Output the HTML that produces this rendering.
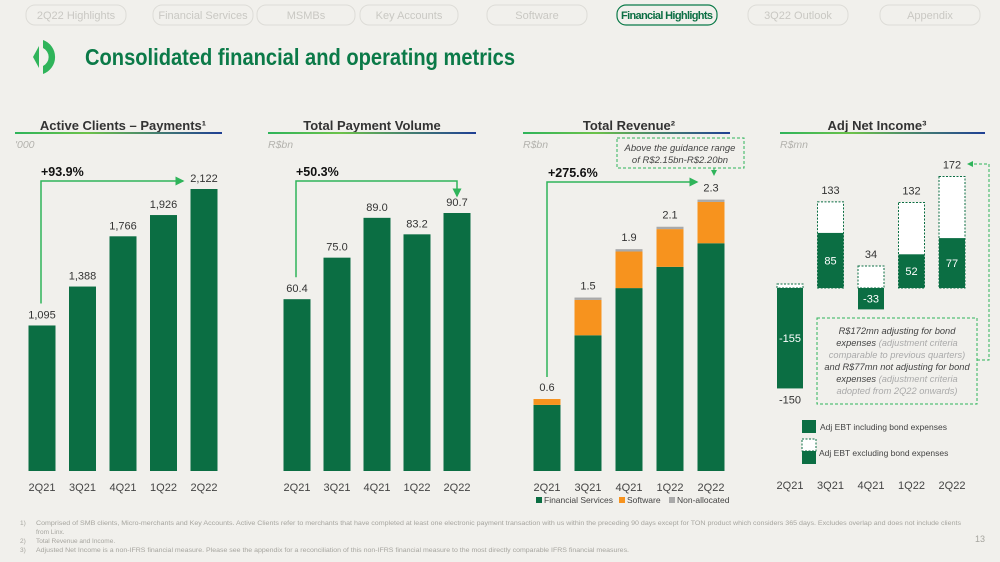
<!DOCTYPE html>
<html><head><meta charset="utf-8"><style>
html,body{margin:0;padding:0;background:#f1f0ec;}
svg{display:block;font-family:"Liberation Sans",sans-serif;}
</style></head><body>
<svg id="s" width="1000" height="562" viewBox="0 0 1000 562">
<defs>
<linearGradient id="ul" x1="0" x2="1"><stop offset="0" stop-color="#2fb45a"/><stop offset="0.35" stop-color="#6cc24a"/><stop offset="1" stop-color="#1f3f94"/></linearGradient>
<marker id="ah" markerWidth="6" markerHeight="6" refX="5" refY="3" orient="auto"><path d="M0,0 L6,3 L0,6z" fill="#2fb45a"/></marker>
</defs>
<rect width="1000" height="562" fill="#f1f0ec"/>
<g font-size="11" fill="#c9c8c3" text-anchor="middle">
<g><rect x="26" y="5" width="100" height="20" rx="9" fill="none" stroke="#dddcd7"/><text x="76" y="19">2Q22 Highlights</text></g>
<g><rect x="153" y="5" width="100" height="20" rx="9" fill="none" stroke="#dddcd7"/><text x="203" y="19">Financial Services</text></g>
<g><rect x="257" y="5" width="98" height="20" rx="9" fill="none" stroke="#dddcd7"/><text x="306" y="19">MSMBs</text></g>
<g><rect x="360" y="5" width="98" height="20" rx="9" fill="none" stroke="#dddcd7"/><text x="409" y="19">Key Accounts</text></g>
<g><rect x="487" y="5" width="100" height="20" rx="9" fill="none" stroke="#dddcd7"/><text x="537" y="19">Software</text></g>
<g><rect x="617" y="5" width="100" height="20" rx="9" fill="none" stroke="#0b7a48" stroke-width="1.2"/><text x="667" y="19" fill="#0b6e43" font-weight="bold" textLength="92">Financial Highlights</text></g>
<g><rect x="748" y="5" width="100" height="20" rx="9" fill="none" stroke="#dddcd7"/><text x="798" y="19">3Q22 Outlook</text></g>
<g><rect x="880" y="5" width="100" height="20" rx="9" fill="none" stroke="#dddcd7"/><text x="930" y="19">Appendix</text></g>
</g>
<g>
<path d="M39,46 L39,68 L33,57z" fill="#2fb45a"/>
<path d="M43,40 A18,18 0 0 1 43,74 L43,66 A10,10 0 0 0 43,48z" fill="#2fb45a"/>
</g>
<text x="85" y="65" font-size="23" font-weight="bold" fill="#0b7a48" textLength="430" lengthAdjust="spacingAndGlyphs">Consolidated financial and operating metrics</text>
<g id="charts"></g>
<g font-size="6.5" fill="#a6a59f">
<text x="20" y="525">1)</text><text x="36" y="525" textLength="925" lengthAdjust="spacingAndGlyphs">Comprised of SMB clients, Micro-merchants and Key Accounts. Active Clients refer to merchants that have completed at least one electronic payment transaction with us within the preceding 90 days except for TON product which considers 365 days. Excludes overlap and does not include clients</text>
<text x="36" y="534">from Linx.</text>
<text x="20" y="543">2)</text><text x="36" y="543">Total Revenue and Income.</text>
<text x="20" y="552">3)</text><text x="36" y="552" textLength="593" lengthAdjust="spacingAndGlyphs">Adjusted Net Income is a non-IFRS financial measure. Please see the appendix for a reconciliation of this non-IFRS financial measure to the most directly comparable IFRS financial measures.</text>
</g>
<text x="975" y="542" font-size="9" fill="#a6a59f">13</text>
</svg>
<script>
const quarters = ["2Q21","3Q21","4Q21","1Q22","2Q22"];
const clients = [1095,1388,1766,1926,2122];
const clientLabels = ["1,095","1,388","1,766","1,926","2,122"];
const tpv = [60.4,75.0,89.0,83.2,90.7];
const tpvLabels = ["60.4","75.0","89.0","83.2","90.7"];
const revFS = [0.56,1.15,1.55,1.73,1.93];
const revSoft = [0.05,0.30,0.31,0.32,0.35];
const revNA = [0.0,0.02,0.02,0.02,0.02];
const revLabels = ["0.6","1.5","1.9","2.1","2.3"];
const niEx = [-150,133,34,132,172];
const niInc = [-155,85,-33,52,77];
const growth = ["+93.9%","+50.3%","+275.6%"];

const NS="http://www.w3.org/2000/svg";
const root=document.getElementById('charts');
const G='#0b6e43';
function mk(tag,attrs,parent,txt){const e=document.createElementNS(NS,tag);for(const k in attrs)e.setAttribute(k,attrs[k]);if(txt!==undefined)e.textContent=txt;(parent||root).appendChild(e);return e;}
const BASE=471, BW=27;

function header(cx,x0,x1,title,unit,name){
  const g=mk('g',{},root);
  
  
  mk('text',{x:cx,y:130,'font-size':13,'font-weight':'bold','text-anchor':'middle',fill:'#333'},g,title);
  mk('rect',{x:x0,y:132,width:x1-x0,height:2,fill:'url(#ul)'},g);
  mk('text',{x:x0,y:148,'font-size':10.5,'font-style':'italic',fill:'#b3b2ad'},g,unit);
}
function xlabels(g,x0,step,y){
  quarters.forEach((q,i)=>{const t=mk('text',{x:x0+i*step,y:y,'font-size':11,'text-anchor':'middle',fill:'#444'},g,q);
    
    });
}
function simpleChart(vals,labels,x0,step,scale,name){
  const g=mk('g',{},root);
  
  
  const ys=v=>BASE-v*scale;
  vals.forEach((v,i)=>{const cx=x0+i*step;
    const r=mk('rect',{x:cx-BW/2,y:ys(v),width:BW,height:v*scale,fill:G},g);
    
    
    const t=mk('text',{x:cx,y:ys(v)-7,'font-size':11,'text-anchor':'middle',fill:'#333'},g,labels[i]);
    
    });
  xlabels(g,x0,step,491);
  return ys;
}
// chart 1
header(123,15,222,'Active Clients – Payments¹',"'000",'active-clients');
const y1=simpleChart(clients,clientLabels,42,40.5,282/2122,'active-clients-chart');
let a=mk('path',{d:`M41,${y1(clients[0])-22} V181 H183`,fill:'none',stroke:'#2fb45a','stroke-width':1.5,'marker-end':'url(#ah)'});


a=mk('text',{x:41,y:176,'font-size':12.5,'font-weight':'bold',fill:'#111'},root,growth[0]);


// chart 2
header(372,268,476,'Total Payment Volume','R$bn','tpv');
const y2=simpleChart(tpv,tpvLabels,297,40,258/90.7,'tpv-chart');
a=mk('path',{d:`M296,${y2(tpv[0])-22} V181 H457 V196`,fill:'none',stroke:'#2fb45a','stroke-width':1.5,'marker-end':'url(#ah)'});


a=mk('text',{x:296,y:176,'font-size':12.5,'font-weight':'bold',fill:'#111'},root,growth[1]);


// chart 3
header(629,523,730,'Total Revenue²','R$bn','revenue');
const g3=mk('g',{},root);


const S3=118, y3=v=>BASE-v*S3;
quarters.forEach((q,i)=>{const cx=547+i*41;
  let b=0;
  [[revFS,G,'financial-services'],[revSoft,'#f7931e','software'],[revNA,'#a9a9a9','non-allocated']].forEach(([arr,c,n])=>{
    const v=arr[i]; const r=mk('rect',{x:cx-BW/2,y:y3(b+v),width:BW,height:v*S3,fill:c},g3);
    
    
    b+=v;});
  const t=mk('text',{x:cx,y:y3(b)-8,'font-size':11,'text-anchor':'middle',fill:'#333'},g3,revLabels[i]);
  
  
});
xlabels(g3,547,41,491);
const tot0=revFS[0]+revSoft[0]+revNA[0];
a=mk('path',{d:`M547,${y3(tot0)-22} V182 H697`,fill:'none',stroke:'#2fb45a','stroke-width':1.5,'marker-end':'url(#ah)'});


a=mk('text',{x:548,y:177,'font-size':12.5,'font-weight':'bold',fill:'#111'},root,growth[2]);


const gb=mk('g',{},root);


mk('rect',{x:617,y:138,width:127,height:30,fill:'none',stroke:'#2fb45a','stroke-dasharray':'3,2'},gb);
mk('text',{x:680,y:151,'font-size':9.5,'font-style':'italic','text-anchor':'middle',fill:'#444'},gb,'Above the guidance range');
mk('text',{x:680,y:163,'font-size':9.5,'font-style':'italic','text-anchor':'middle',fill:'#444'},gb,'of R$2.15bn-R$2.20bn');
mk('path',{d:'M714,168 V175',stroke:'#2fb45a','stroke-dasharray':'2,2',fill:'none','marker-end':'url(#ah)'},gb);
const lg=mk('g',{},root);


[['Financial Services',G,536],['Software','#f7931e',619],['Non-allocated','#a9a9a9',669]].forEach(([n,c,x])=>{
  mk('rect',{x:x,y:497,width:6,height:6,fill:c},lg);
  mk('text',{x:x+8,y:503,'font-size':8.5,fill:'#444'},lg,n);});
// chart 4
header(877,780,985,'Adj Net Income³','R$mn','net-income');
const g4=mk('g',{},root);


const Z=288, S4=0.648, y4=v=>Z-v*S4;
quarters.forEach((q,i)=>{const cx=790+i*40.5;
  const e=niEx[i], c=niInc[i];
  const dtop=e>=0?y4(e):Z-4, dh=e>=0?e*S4:4;
  const d=mk('rect',{x:cx-13,y:dtop,width:26,height:dh,fill:'#fff',stroke:G,'stroke-dasharray':'2,1.5','stroke-width':1},g4);
  
  
  const r=mk('rect',{x:cx-13,y:Math.min(Z,y4(c)),width:26,height:Math.abs(c)*S4,fill:G},g4);
  
  
  const ly=e>=0?y4(e)-8:y4(Math.min(e,c))+15;
  const t=mk('text',{x:cx,y:ly,'font-size':11,'text-anchor':'middle',fill:'#333'},g4,String(e));
  
  
  const t2=mk('text',{x:cx,y:(Z+y4(c))/2+4,'font-size':11,'text-anchor':'middle',fill:'#fff'},g4,String(c));
  
  
});
xlabels(g4,790,40.5,489);
const cb=mk('g',{},root);


mk('rect',{x:817,y:318,width:160,height:86,fill:'none',stroke:'#2fb45a','stroke-dasharray':'3,2'},cb);
[['R$172mn adjusting for bond','#444'],['expenses|(adjustment criteria',''],['comparable to previous quarters)','#aaa'],['and R$77mn not adjusting for bond','#444'],['expenses|(adjustment criteria',''],['adopted from 2Q22 onwards)','#aaa']].forEach(([s,c],i)=>{
  const t=mk('text',{x:897,y:334+i*12,'font-size':9.3,'font-style':'italic','text-anchor':'middle',fill:c||'#444'},cb);
  if(s.includes('|')){const p=s.split('|');
    mk('tspan',{fill:'#444'},t,p[0]+' ');mk('tspan',{fill:'#aaa'},t,p[1]);} else t.textContent=s;});
mk('path',{d:'M977,360 H989 V164 H968',fill:'none',stroke:'#2fb45a','stroke-dasharray':'3,2','marker-end':'url(#ah)'},cb);
const l4=mk('g',{},root);


mk('rect',{x:802,y:420,width:14,height:13,fill:G},l4);
mk('text',{x:820,y:430,'font-size':8.5,fill:'#444'},l4,'Adj EBT including bond expenses');
mk('rect',{x:802,y:439,width:14,height:12,fill:'#fff',stroke:G,'stroke-dasharray':'2,1.5'},l4);
mk('rect',{x:802,y:451,width:14,height:13,fill:G},l4);
mk('text',{x:819,y:456,'font-size':8.5,fill:'#444'},l4,'Adj EBT excluding bond expenses');
</script>
</body></html>
